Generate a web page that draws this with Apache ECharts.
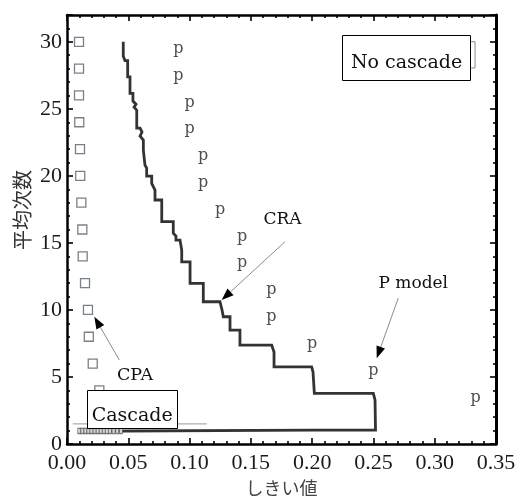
<!DOCTYPE html>
<html><head><meta charset="utf-8">
<script src="https://cdn.jsdelivr.net/npm/echarts@6/dist/echarts.min.js"></script>
<style>html,body{margin:0;padding:0;background:#fff}#c{width:520px;height:496px}</style>
</head><body><div id="c"></div>
<script>
// ---- data ----
const xTickValues = [0, 0.05, 0.10, 0.15, 0.20, 0.25, 0.30, 0.35];
const yTickValues = [0, 5, 10, 15, 20, 25, 30];
// CPA (hollow squares)
const cpaX = [0.0098, 0.0098, 0.0098, 0.0100, 0.0106, 0.0108, 0.0117, 0.0125, 0.0128, 0.0147, 0.0171, 0.0178, 0.0210, 0.0264];
const cpaY = [30, 28, 26, 24, 22, 20, 18, 16, 14, 12, 10, 8, 6, 4];
// CPA points crowded near average count 1
const cpaLowX = [0.0100, 0.0125, 0.0150, 0.0175, 0.0200, 0.0225, 0.0250, 0.0275, 0.0300, 0.0325, 0.0350, 0.0380, 0.0410, 0.0440];
const cpaLowY = [0.97, 0.97, 0.97, 0.97, 0.97, 0.97, 0.97, 0.97, 0.97, 0.97, 0.97, 0.97, 0.97, 0.97];
// P model ("p" markers)
const pX = [0.0909, 0.0909, 0.1000, 0.1000, 0.1111, 0.1111, 0.1250, 0.1429, 0.1429, 0.1667, 0.1667, 0.2000, 0.2500, 0.3333];
const pY = [30, 28, 26, 24, 22, 20, 18, 16, 14, 12, 10, 8, 6, 4];
// CRA staircase path [threshold, average count]
const craPath = [
  [0.0459,30.0],[0.0459,28.93],[0.0473,28.86],[0.0473,28.6],[0.0495,28.6],[0.0495,27.39],
  [0.0514,27.39],[0.0514,26.15],[0.0538,26.15],[0.0538,25.58],[0.0563,25.35],[0.0547,25.13],
  [0.0569,24.9],[0.0569,23.56],[0.0596,23.56],[0.0612,23.27],[0.0596,22.97],[0.0623,22.67],
  [0.0623,21.92],[0.0636,21.92],[0.0636,20.8],[0.0650,20.58],[0.0650,19.98],[0.0691,19.98],
  [0.0691,19.44],[0.0718,18.94],[0.0718,18.2],[0.0773,18.2],[0.0773,16.58],[0.0867,16.58],
  [0.0867,15.73],[0.0889,15.51],[0.0889,15.21],[0.0922,15.21],[0.0936,14.47],[0.0936,13.59],
  [0.1004,13.59],[0.1004,11.98],[0.1112,11.98],[0.1112,10.61],[0.1248,10.61],[0.1265,9.99],
  [0.1275,9.49],[0.1330,9.49],[0.1330,8.5],[0.1411,8.5],[0.1411,7.38],[0.1670,7.38],
  [0.1689,6.86],[0.1689,5.76],[0.1996,5.76],[0.2007,5.37],[0.2018,3.78],[0.2499,3.78],
  [0.2513,3.28],[0.2517,1.04],[0.2007,1.04],[0.2007,0.95],[0.0090,0.95]
];
// thin reference line near count 1.5
const thinX = [0.0047, 0.114];
const thinY = [1.5, 1.5];
// annotations (data coordinates)
const arrows = [
  { from: [0.1779, 15.09], to: [0.1262, 10.74] },  // CRA
  { from: [0.0427, 6.26],  to: [0.0223, 9.49] },   // CPA
  { from: [0.2703, 10.89], to: [0.2527, 6.39] }    // P model
];
const labels = [
  { text: 'CRA', at: [0.1758, 16.71], size: 17 },
  { text: 'CPA', at: [0.0555, 5.15], size: 17.5 },
  { text: 'P model', at: [0.2825, 11.93], size: 17 }
];
const boxes = [
  { text: 'No cascade', tl: [0.2241, 30.51], br: [0.3288, 27.15], textAt: [0.2770, 28.44], size: 19,
    shadow: { tl: [0.2260, 30.01], br: [0.3329, 28.05] } },
  { text: 'Cascade', tl: [0.0161, 4.03], br: [0.0895, 1.17], textAt: [0.0532, 2.09], size: 19 }
];

// ---- chart ----
const serif = 'Liberation Serif';
const annFont = 'DejaVu Serif';
const zip = (a, b) => a.map((v, i) => [v, b[i]]);

const axisCommon = {
  type: 'value',
  splitLine: { show: false },
  axisLine: { show: true, onZero: false, lineStyle: { color: '#000', width: 2.5 } },
  axisTick: { show: true, inside: true, length: 6, lineStyle: { color: '#000', width: 1.6 } },
  minorTick: { show: true, splitNumber: 5, length: 3, lineStyle: { color: '#000', width: 1.6 } },
  minorSplitLine: { show: false }
};

const option = {
  animation: false,
  backgroundColor: '#fff',
  grid: { left: 67, top: 15, width: 429, height: 429, containLabel: false, outerBoundsMode: 'none' },
  xAxis: [
    Object.assign({}, axisCommon, {
      position: 'bottom', min: 0, max: 0.35, interval: 0.05,
      axisLabel: { show: true, margin: 8, fontFamily: serif, fontSize: 22, color: '#1a1a1a',
        formatter: v => v.toFixed(2) },
      name: 'しきい値', nameLocation: 'middle', nameGap: 33,
      nameTextStyle: { fontFamily: 'Noto Sans CJK JP', fontSize: 18, color: '#444' }
    }),
    Object.assign({}, axisCommon, {
      position: 'top', min: 0, max: 0.35, interval: 0.05,
      axisLabel: { show: false }
    })
  ],
  yAxis: [
    Object.assign({}, axisCommon, {
      position: 'left', min: 0, max: 32, interval: 5,
      axisLabel: { show: true, margin: 5, fontFamily: serif, fontSize: 22, color: '#1a1a1a',
        showMaxLabel: false, formatter: v => (v % 5 === 0 ? String(v) : '') }
    }),
    Object.assign({}, axisCommon, {
      position: 'right', min: 0, max: 32, interval: 5,
      axisLine: { show: true, onZero: false, lineStyle: { color: '#000', width: 3 } },
      axisLabel: { show: false }
    })
  ],
  series: [
    {
      name: 'thin', type: 'line', data: zip(thinX, thinY), symbol: 'none',
      lineStyle: { color: '#9a9a9a', width: 1 }, z: 2
    },
    {
      name: 'CRA', type: 'line', data: craPath, symbol: 'none',
      lineStyle: { color: '#333', width: 2.8, join: 'miter' }, z: 3
    },
    {
      name: 'CPA low', type: 'scatter', data: zip(cpaLowX, cpaLowY), symbol: 'rect',
      symbolSize: [3, 5], itemStyle: { color: '#fff', borderColor: '#555', borderWidth: 1 }, z: 4
    },
    {
      name: 'CPA', type: 'scatter', data: zip(cpaX, cpaY), symbol: 'rect', symbolSize: 9,
      itemStyle: { color: '#fff', borderColor: '#56606c', borderWidth: 1.3 }, z: 4
    },
    {
      name: 'P model', type: 'scatter', data: zip(pX, pY), symbol: 'circle', symbolSize: 1,
      itemStyle: { color: 'rgba(0,0,0,0)' },
      label: { show: true, position: 'inside', formatter: 'p', offset: [0, 7],
        fontFamily: annFont, fontSize: 16, color: '#222' }, z: 4
    }
  ]
};

const chart = echarts.init(document.getElementById('c'), null, { renderer: 'canvas' });
chart.setOption(option);

const P = (pt) => chart.convertToPixel({ xAxisIndex: 0, yAxisIndex: 0 }, pt);
const graphics = [];
// y-axis name (rotated)
graphics.push({ type: 'text', x: 22.5, y: 210, rotation: Math.PI / 2, z: 100,
  style: { text: '平均次数', font: '20px "Noto Sans CJK JP"', fill: '#333', align: 'center', verticalAlign: 'middle' } });
boxes.forEach(b => {
  if (b.shadow) {
    const a = P(b.shadow.tl), c = P(b.shadow.br);
    graphics.push({ type: 'rect', z: 99, shape: { x: a[0], y: a[1], width: c[0] - a[0], height: c[1] - a[1] },
      style: { fill: '#fff', stroke: '#8a8a8a', lineWidth: 1 } });
  }
  const a = P(b.tl), c = P(b.br);
  graphics.push({ type: 'rect', z: 100, shape: { x: Math.round(a[0]) + 0.5, y: Math.round(a[1]) + 0.5,
      width: Math.round(c[0] - a[0]), height: Math.round(c[1] - a[1]) },
    style: { fill: '#fff', stroke: '#000', lineWidth: 1 } });
  const t = P(b.textAt);
  graphics.push({ type: 'text', z: 101, x: t[0], y: t[1],
    style: { text: b.text, font: b.size + 'px "' + annFont + '"', fill: '#111', align: 'center', verticalAlign: 'middle' } });
});
labels.forEach(l => {
  const t = P(l.at);
  graphics.push({ type: 'text', z: 101, x: t[0], y: t[1],
    style: { text: l.text, font: l.size + 'px "' + annFont + '"', fill: '#111', align: 'center', verticalAlign: 'middle' } });
});
arrows.forEach(ar => {
  const s = P(ar.from), e = P(ar.to);
  const dx = e[0] - s[0], dy = e[1] - s[1], L = Math.hypot(dx, dy);
  const ux = dx / L, uy = dy / L, px = -uy, py = ux;
  const hl = 12, hw = 4.5;
  const bx = e[0] - ux * hl, by = e[1] - uy * hl;
  graphics.push({ type: 'line', z: 100, shape: { x1: s[0], y1: s[1], x2: bx, y2: by },
    style: { stroke: '#8c8c8c', lineWidth: 1 } });
  graphics.push({ type: 'polygon', z: 101, shape: { points: [[e[0], e[1]], [bx + px * hw, by + py * hw], [bx - px * hw, by - py * hw]] },
    style: { fill: '#000' } });
});
chart.setOption({ graphic: graphics });
</script>
</body></html>
